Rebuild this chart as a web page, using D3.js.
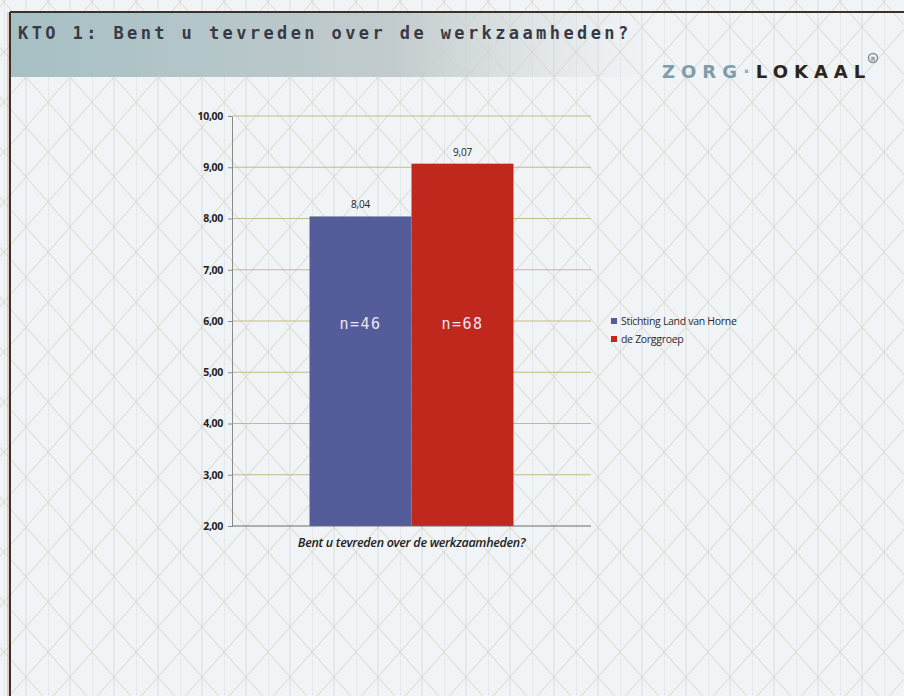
<!DOCTYPE html>
<html>
<head>
<meta charset="utf-8">
<script src="https://cdn.jsdelivr.net/npm/d3@7"></script>
<style>
  body { margin: 0; background: #f1f4f6; }
  svg { display: block; }
</style>
</head>
<body>
<div id="chart"></div>
<script>
var width = 904, height = 696;

// chart data
var categories = ["Bent u tevreden over de werkzaamheden?"];
var seriesNames = ["Stichting Land van Horne", "de Zorggroep"];
var seriesValues = [8.04, 9.07];
var seriesCounts = ["n=46", "n=68"];
var seriesColors = ["#545d99", "#c1281d"];
var yTicks = [2, 3, 4, 5, 6, 7, 8, 9, 10];

var plot = {left: 232, right: 591, top: 116, bottom: 526};
var fmt = function (v) { return d3.format(".2f")(v).replace(".", ","); };
var labelFont = "Open Sans, sans-serif";

var svg = d3.select("#chart").append("svg")
    .attr("width", width)
    .attr("height", height);

// background: triangle grid paper
var defs = svg.append("defs");
var pat = defs.append("pattern")
    .attr("id", "grid")
    .attr("patternUnits", "userSpaceOnUse")
    .attr("width", 44)
    .attr("height", 50)
    .attr("x", 4)
    .attr("y", 2);
pat.append("rect").attr("width", 44).attr("height", 50).attr("fill", "#f0f4f6");
var pl = [[0, 0, 44, 50], [0, 50, 44, 0], [-22, 25, 22, 75], [22, -25, 66, 25], [-22, 25, 22, -25], [22, 75, 66, 25], [0, 0, 0, 50], [22, 0, 22, 50]];
pl.forEach(function (l, i) {
    pat.append("line")
        .attr("x1", l[0]).attr("y1", l[1]).attr("x2", l[2]).attr("y2", l[3])
        .attr("stroke", i >= 6 ? "#dcdfe0" : "#d9d6c6")
        .attr("stroke-width", 1);
});
svg.append("rect").attr("width", width).attr("height", height).attr("fill", "url(#grid)");

// title band
var grad = defs.append("linearGradient").attr("id", "band");
grad.append("stop").attr("offset", "0%").attr("stop-color", "#a6c0c4");
grad.append("stop").attr("offset", "60%").attr("stop-color", "#c2cbcd");
grad.append("stop").attr("offset", "100%").attr("stop-color", "#d4d9db").attr("stop-opacity", 0);
svg.append("rect")
    .attr("x", 11).attr("y", 13).attr("width", 640).attr("height", 64)
    .attr("fill", "url(#band)");

// frame
svg.append("line").attr("x1", 10).attr("y1", 12).attr("x2", width).attr("y2", 12)
    .attr("stroke", "#3b3129").attr("stroke-width", 2);
svg.append("line").attr("x1", 10).attr("y1", 12).attr("x2", 10).attr("y2", height)
    .attr("stroke", "#3b3129").attr("stroke-width", 2);
svg.append("line").attr("x1", 8).attr("y1", 12).attr("x2", 8).attr("y2", height)
    .attr("stroke", "#d9a090").attr("stroke-width", 1);

svg.append("text")
    .attr("x", 18).attr("y", 39)
    .text("KTO 1: Bent u tevreden over de werkzaamheden?")
    .style("font-family", "DejaVu Sans Mono, monospace")
    .style("font-size", "17px")
    .style("font-weight", "bold")
    .style("letter-spacing", "3.4px")
    .attr("fill", "#3a3a46");

// logo
var logo = svg.append("text")
    .attr("x", 662).attr("y", 78)
    .style("font-family", "DejaVu Sans, sans-serif")
    .style("font-weight", "bold")
    .style("font-size", "18px")
    .style("letter-spacing", "6px");
logo.append("tspan").text("ZORG").attr("fill", "#7f9cab");
logo.append("tspan").text("·").attr("fill", "#9ab0ba");
logo.append("tspan").text("LOKAAL").attr("fill", "#2c2420");
svg.append("circle").attr("cx", 873).attr("cy", 58).attr("r", 4.5)
    .attr("fill", "none").attr("stroke", "#8c8c8c").attr("stroke-width", 1.5);
svg.append("text").attr("x", 873).attr("y", 60.5).text("R")
    .attr("text-anchor", "middle")
    .style("font-family", "DejaVu Sans, sans-serif").style("font-size", "6px")
    .style("font-weight", "bold").attr("fill", "#8c8c8c");

// scales
var y = d3.scaleLinear().domain([2, 10]).range([plot.bottom, plot.top]);
var x0 = d3.scaleBand().domain(categories).range([plot.left, plot.right])
    .paddingInner(0).paddingOuter(0.38);
var x1 = d3.scaleBand().domain(seriesNames).range([0, x0.bandwidth()]);

// gridlines
svg.append("g").selectAll("line")
    .data(yTicks.slice(1))
    .enter().append("line")
    .attr("x1", plot.left).attr("x2", plot.right)
    .attr("y1", d => y(d)).attr("y2", d => y(d))
    .attr("stroke", "#c4bb84").attr("stroke-width", 1);

// y axis
var yAxis = svg.append("g")
    .attr("transform", "translate(" + plot.left + ",0)")
    .call(d3.axisLeft(y).tickValues(yTicks).tickFormat(fmt).tickSize(4).tickSizeOuter(0));
yAxis.select(".domain").attr("stroke", "#8a8a88");
yAxis.selectAll(".tick line").attr("stroke", "#8a8a88");
yAxis.selectAll("text")
    .attr("x", -9)
    .attr("fill", "#222")
    .style("font-family", labelFont)
    .style("font-size", "10.5px")
    .style("font-weight", "bold")
    .style("letter-spacing", "-0.3px");

// bars
var g = svg.append("g");
var bars = seriesNames.map((s, i) => ({name: s, value: seriesValues[i], n: seriesCounts[i], color: seriesColors[i]}));
g.selectAll("rect")
    .data(bars)
    .enter().append("rect")
    .attr("x", d => x0(categories[0]) + x1(d.name))
    .attr("y", d => y(d.value))
    .attr("width", x1.bandwidth())
    .attr("height", d => y(2) - y(d.value))
    .attr("fill", d => d.color);

g.selectAll(".val")
    .data(bars)
    .enter().append("text")
    .attr("class", "val")
    .attr("x", d => x0(categories[0]) + x1(d.name) + x1.bandwidth() / 2)
    .attr("y", d => y(d.value) - 8)
    .attr("text-anchor", "middle")
    .text(d => fmt(d.value))
    .attr("fill", "#222")
    .style("font-family", labelFont)
    .style("font-size", "10px")
    .style("letter-spacing", "-0.2px");

g.selectAll(".n")
    .data(bars)
    .enter().append("text")
    .attr("class", "n")
    .attr("x", d => x0(categories[0]) + x1(d.name) + x1.bandwidth() / 2)
    .attr("y", y(6) + 8)
    .attr("text-anchor", "middle")
    .text(d => d.n)
    .attr("fill", "#ece6f8")
    .style("font-family", "DejaVu Sans Mono, monospace")
    .style("font-size", "15px")
    .style("letter-spacing", "1.5px");

// x axis
svg.append("line")
    .attr("x1", plot.left).attr("x2", plot.right)
    .attr("y1", plot.bottom).attr("y2", plot.bottom)
    .attr("stroke", "#6a6a70").attr("stroke-width", 1);
svg.append("text")
    .attr("x", x0(categories[0]) + x0.bandwidth() / 2)
    .attr("y", plot.bottom + 21)
    .attr("text-anchor", "middle")
    .text(categories[0])
    .attr("fill", "#222")
    .style("font-family", labelFont)
    .style("font-style", "italic")
    .style("font-weight", "600")
    .style("font-size", "12.5px")
    .style("letter-spacing", "-0.3px");

// legend
var legend = svg.append("g").attr("transform", "translate(611,318)");
seriesNames.forEach((s, i) => {
    legend.append("rect")
        .attr("x", 0).attr("y", i * 18)
        .attr("width", 6).attr("height", 6)
        .attr("fill", seriesColors[i]);
    legend.append("text")
        .attr("x", 10).attr("y", i * 18 + 7)
        .text(s)
        .attr("fill", "#2a2a30")
        .style("font-family", labelFont)
        .style("font-size", "10.5px")
        .style("letter-spacing", "-0.3px");
});
</script>
</body>
</html>
